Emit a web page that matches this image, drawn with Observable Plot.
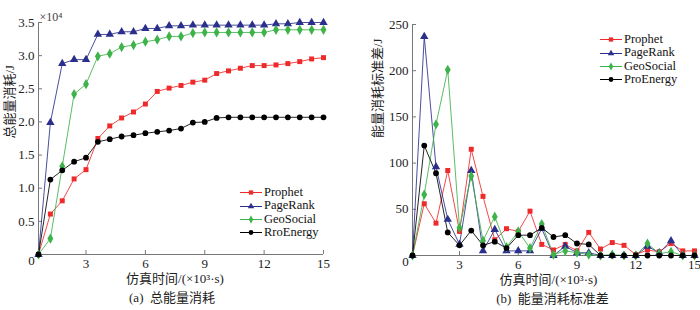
<!DOCTYPE html>
<html>
<head>
<meta charset="utf-8">
<script src="https://cdn.jsdelivr.net/npm/d3@7"></script>
<script src="https://cdn.jsdelivr.net/npm/@observablehq/plot@0.6"></script>
<style>
  html, body { margin: 0; padding: 0; background: #fff; }
  #wrap { position: relative; width: 700px; height: 310px; overflow: hidden; }
  .panel { position: absolute; top: 0; }
  .panel text { font-family: "Liberation Serif", "Noto Sans CJK SC", serif; }
  .legend { position: absolute; font-family: "Liberation Serif", "Noto Sans CJK SC", serif; font-size: 12.5px; line-height: 13.4px; color: #111; }
  .legend .row { display: flex; align-items: center; height: 13.4px; }
  .legend svg { display: block; margin-right: 1px; }
</style>
</head>
<body>
<div id="wrap"></div>
<script>
// ---------- data ----------
const times = [0.6, 1.2, 1.8, 2.4, 3.0, 3.6, 4.2, 4.8, 5.4, 6.0, 6.6, 7.2, 7.8, 8.4, 9.0, 9.6, 10.2, 10.8, 11.4, 12.0, 12.6, 13.2, 13.8, 14.4, 15.0];

// (a) total energy consumption, ×10^4 J
const totalProphet   = [0, 0.61, 0.81, 1.14, 1.28, 1.75, 1.94, 2.06, 2.15, 2.27, 2.46, 2.51, 2.55, 2.60, 2.63, 2.73, 2.77, 2.81, 2.85, 2.85, 2.86, 2.88, 2.91, 2.95, 2.97];
const totalPageRank  = [0, 1.99, 2.88, 2.94, 2.94, 3.32, 3.32, 3.36, 3.36, 3.41, 3.41, 3.45, 3.45, 3.46, 3.46, 3.46, 3.46, 3.46, 3.46, 3.46, 3.48, 3.48, 3.50, 3.50, 3.50];
const totalGeoSocial = [0, 0.24, 1.33, 2.42, 2.57, 2.99, 3.03, 3.13, 3.16, 3.21, 3.24, 3.29, 3.29, 3.34, 3.35, 3.35, 3.35, 3.35, 3.35, 3.35, 3.39, 3.39, 3.39, 3.39, 3.39];
const totalRroEnergy = [0, 1.13, 1.27, 1.40, 1.46, 1.70, 1.74, 1.78, 1.80, 1.83, 1.85, 1.87, 1.90, 1.99, 2.00, 2.06, 2.07, 2.07, 2.07, 2.07, 2.07, 2.07, 2.07, 2.07, 2.07];

// (b) std. dev. of energy consumption, J
const stdProphet   = [0, 56, 35, 92, 26, 115, 64, 17, 29, 26, 48, 12, 6, 12, 5, 25, 7, 14, 11, 1, 6, 4, 13, 5, 5];
const stdPageRank  = [0, 237, 96, 39, 12, 92, 5, 28, 5, 5, 5, 29, 0, 10, 3, 3, 0, 0, 0, 0, 10, 3, 16, 0, 0];
const stdGeoSocial = [0, 66, 142, 201, 30, 86, 16, 42, 9, 26, 8, 34, 1, 5, 3, 1, 0, 1, 0, 0, 13, 2, 4, 0, 0];
const stdProEnergy = [0, 119, 89, 25, 11, 27, 11, 15, 8, 22, 22, 30, 20, 22, 13, 12, 0, 0, 0, 0, 0, 0, 0, 0, 0];

const namesA = ["Prophet", "PageRank", "GeoSocial", "RroEnergy"];
const namesB = ["Prophet", "PageRank", "GeoSocial", "ProEnergy"];
const xTickValues = [3, 6, 9, 12, 15];
const xZeroLabel = ["0"];
const yTicksA = [0.5, 1.0, 1.5, 2.0, 2.5, 3.0, 3.5];
const yTicksB = [50, 100, 150, 200, 250];
const labelsA = { y: "总能量消耗/J", x: "仿真时间/(×10³·s)", caption: "(a)  总能量消耗", scale: "×10⁴" };
const labelsB = { y: "能量消耗标准差/J", x: "仿真时间/(×10³·s)", caption: "(b)  能量消耗标准差" };

// ---------- style ----------
const colors = ["#ee2a2a", "#2b2f8c", "#3db34a", "#000000"];
const symbols = ["square", "triangle", "diamond", "circle"];
const symR = [2.8, 3.1, 3.1, 2.9];
const axisColor = "#777";
const font = "Liberation Serif, Noto Sans CJK SC, serif";

function series(names, arrays) {
  return names.flatMap((name, i) => times.map((t, j) => ({ name, t, v: arrays[i][j], i })));
}

function panel({ names, arrays, yDomain, yTicks, yFormat, labels, margins, xLabelDx, capDx, yLabelDx, yLabelDy }) {
  const W = 350, H = 310;
  const [mt, mr, mb, ml] = margins;
  const pw = W - ml - mr, ph = H - mt - mb;
  const data = series(names, arrays);
  const txt = { fontFamily: font, fontSize: 13, fill: "#222" };
  const marks = [
    Plot.ruleX([times[0]], { stroke: axisColor, strokeWidth: 1 }),
    Plot.ruleY([yDomain[0]], { stroke: axisColor, strokeWidth: 1 }),
    Plot.tickY(yTicks, { y: d => d, insetRight: pw - 4, stroke: axisColor }),
    Plot.tickX(xTickValues, { x: d => d, insetTop: ph - 4, stroke: axisColor }),
    Plot.axisY({ ticks: yTicks, tickSize: 0, tickPadding: 4, tickFormat: yFormat, label: null, ...txt }),
    Plot.axisX({ ticks: xTickValues, tickSize: 0, tickPadding: 4, label: null, ...txt }),
    Plot.text(xZeroLabel, { x: times[0], frameAnchor: "bottom", dy: 10, dx: -7, ...txt }),
    Plot.text([labels.x], { frameAnchor: "bottom", dx: xLabelDx, dy: 28, ...txt }),
    Plot.text([labels.caption], { frameAnchor: "bottom", dx: capDx, dy: 47, ...txt }),
    Plot.text([labels.y], { frameAnchor: "left", rotate: -90, dx: yLabelDx, dy: yLabelDy, ...txt })
  ];
  if (labels.scale) {
    marks.push(Plot.text([labels.scale], { frameAnchor: "top-left", textAnchor: "start", dx: 1, dy: -10, fontFamily: font, fontSize: 12, fill: "#444" }));
  }
  names.forEach((name, i) => {
    const d = data.filter(r => r.i === i);
    marks.push(Plot.line(d, { x: "t", y: "v", stroke: colors[i], strokeWidth: 1, strokeOpacity: 0.85 }));
  });
  names.forEach((name, i) => {
    const d = data.filter(r => r.i === i);
    marks.push(Plot.dot(d, { x: "t", y: "v", symbol: () => symbols[i], fill: colors[i], stroke: "none", r: symR[i] }));
  });
  return Plot.plot({
    width: W, height: H,
    marginTop: mt, marginRight: mr, marginBottom: mb, marginLeft: ml,
    x: { domain: [times[0], times[times.length - 1]], axis: null },
    y: { domain: yDomain, axis: null },
    symbol: { type: "identity" },
    style: { fontFamily: font, fontSize: "13px", background: "#fff", overflow: "visible" },
    marks
  });
}

function legend(names, left, top) {
  const div = document.createElement("div");
  div.className = "legend";
  div.style.left = left + "px";
  div.style.top = top + "px";
  names.forEach((name, i) => {
    const row = document.createElement("div");
    row.className = "row";
    const svg = d3.create("svg").attr("width", 24).attr("height", 13);
    svg.append("line").attr("x1", 1).attr("x2", 23).attr("y1", 6.5).attr("y2", 6.5)
      .attr("stroke", colors[i]).attr("stroke-width", 1);
    svg.append("path").attr("transform", "translate(12,6.5)")
      .attr("d", d3.symbol(({square: d3.symbolSquare, triangle: d3.symbolTriangle, diamond: d3.symbolDiamond, circle: d3.symbolCircle})[symbols[i]], Math.PI * 2.4 * 2.4)())
      .attr("fill", colors[i]);
    row.appendChild(svg.node());
    const span = document.createElement("span");
    span.textContent = name;
    row.appendChild(span);
    div.appendChild(row);
  });
  return div;
}

const wrap = document.getElementById("wrap");

const left = panel({
  names: namesA,
  arrays: [totalProphet, totalPageRank, totalGeoSocial, totalRroEnergy],
  yDomain: [0, 3.5], yTicks: yTicksA, yFormat: d3.format(".1f"),
  labels: labelsA, margins: [22, 27, 56, 38],
  xLabelDx: -6, capDx: -9, yLabelDx: -29, yLabelDy: 0
});
left.classList.add("panel");
left.style.left = "0px";
wrap.appendChild(left);

const right = panel({
  names: namesB,
  arrays: [stdProphet, stdPageRank, stdGeoSocial, stdProEnergy],
  yDomain: [0, 250], yTicks: yTicksB, yFormat: d3.format("d"),
  labels: labelsB, margins: [24, 6, 55, 62],
  xLabelDx: -5, capDx: -1, yLabelDx: -35, yLabelDy: -2
});
right.classList.add("panel");
right.style.left = "350px";
wrap.appendChild(right);

wrap.appendChild(legend(namesA, 239, 186));
wrap.appendChild(legend(namesB, 599, 33));
</script>
</body>
</html>
